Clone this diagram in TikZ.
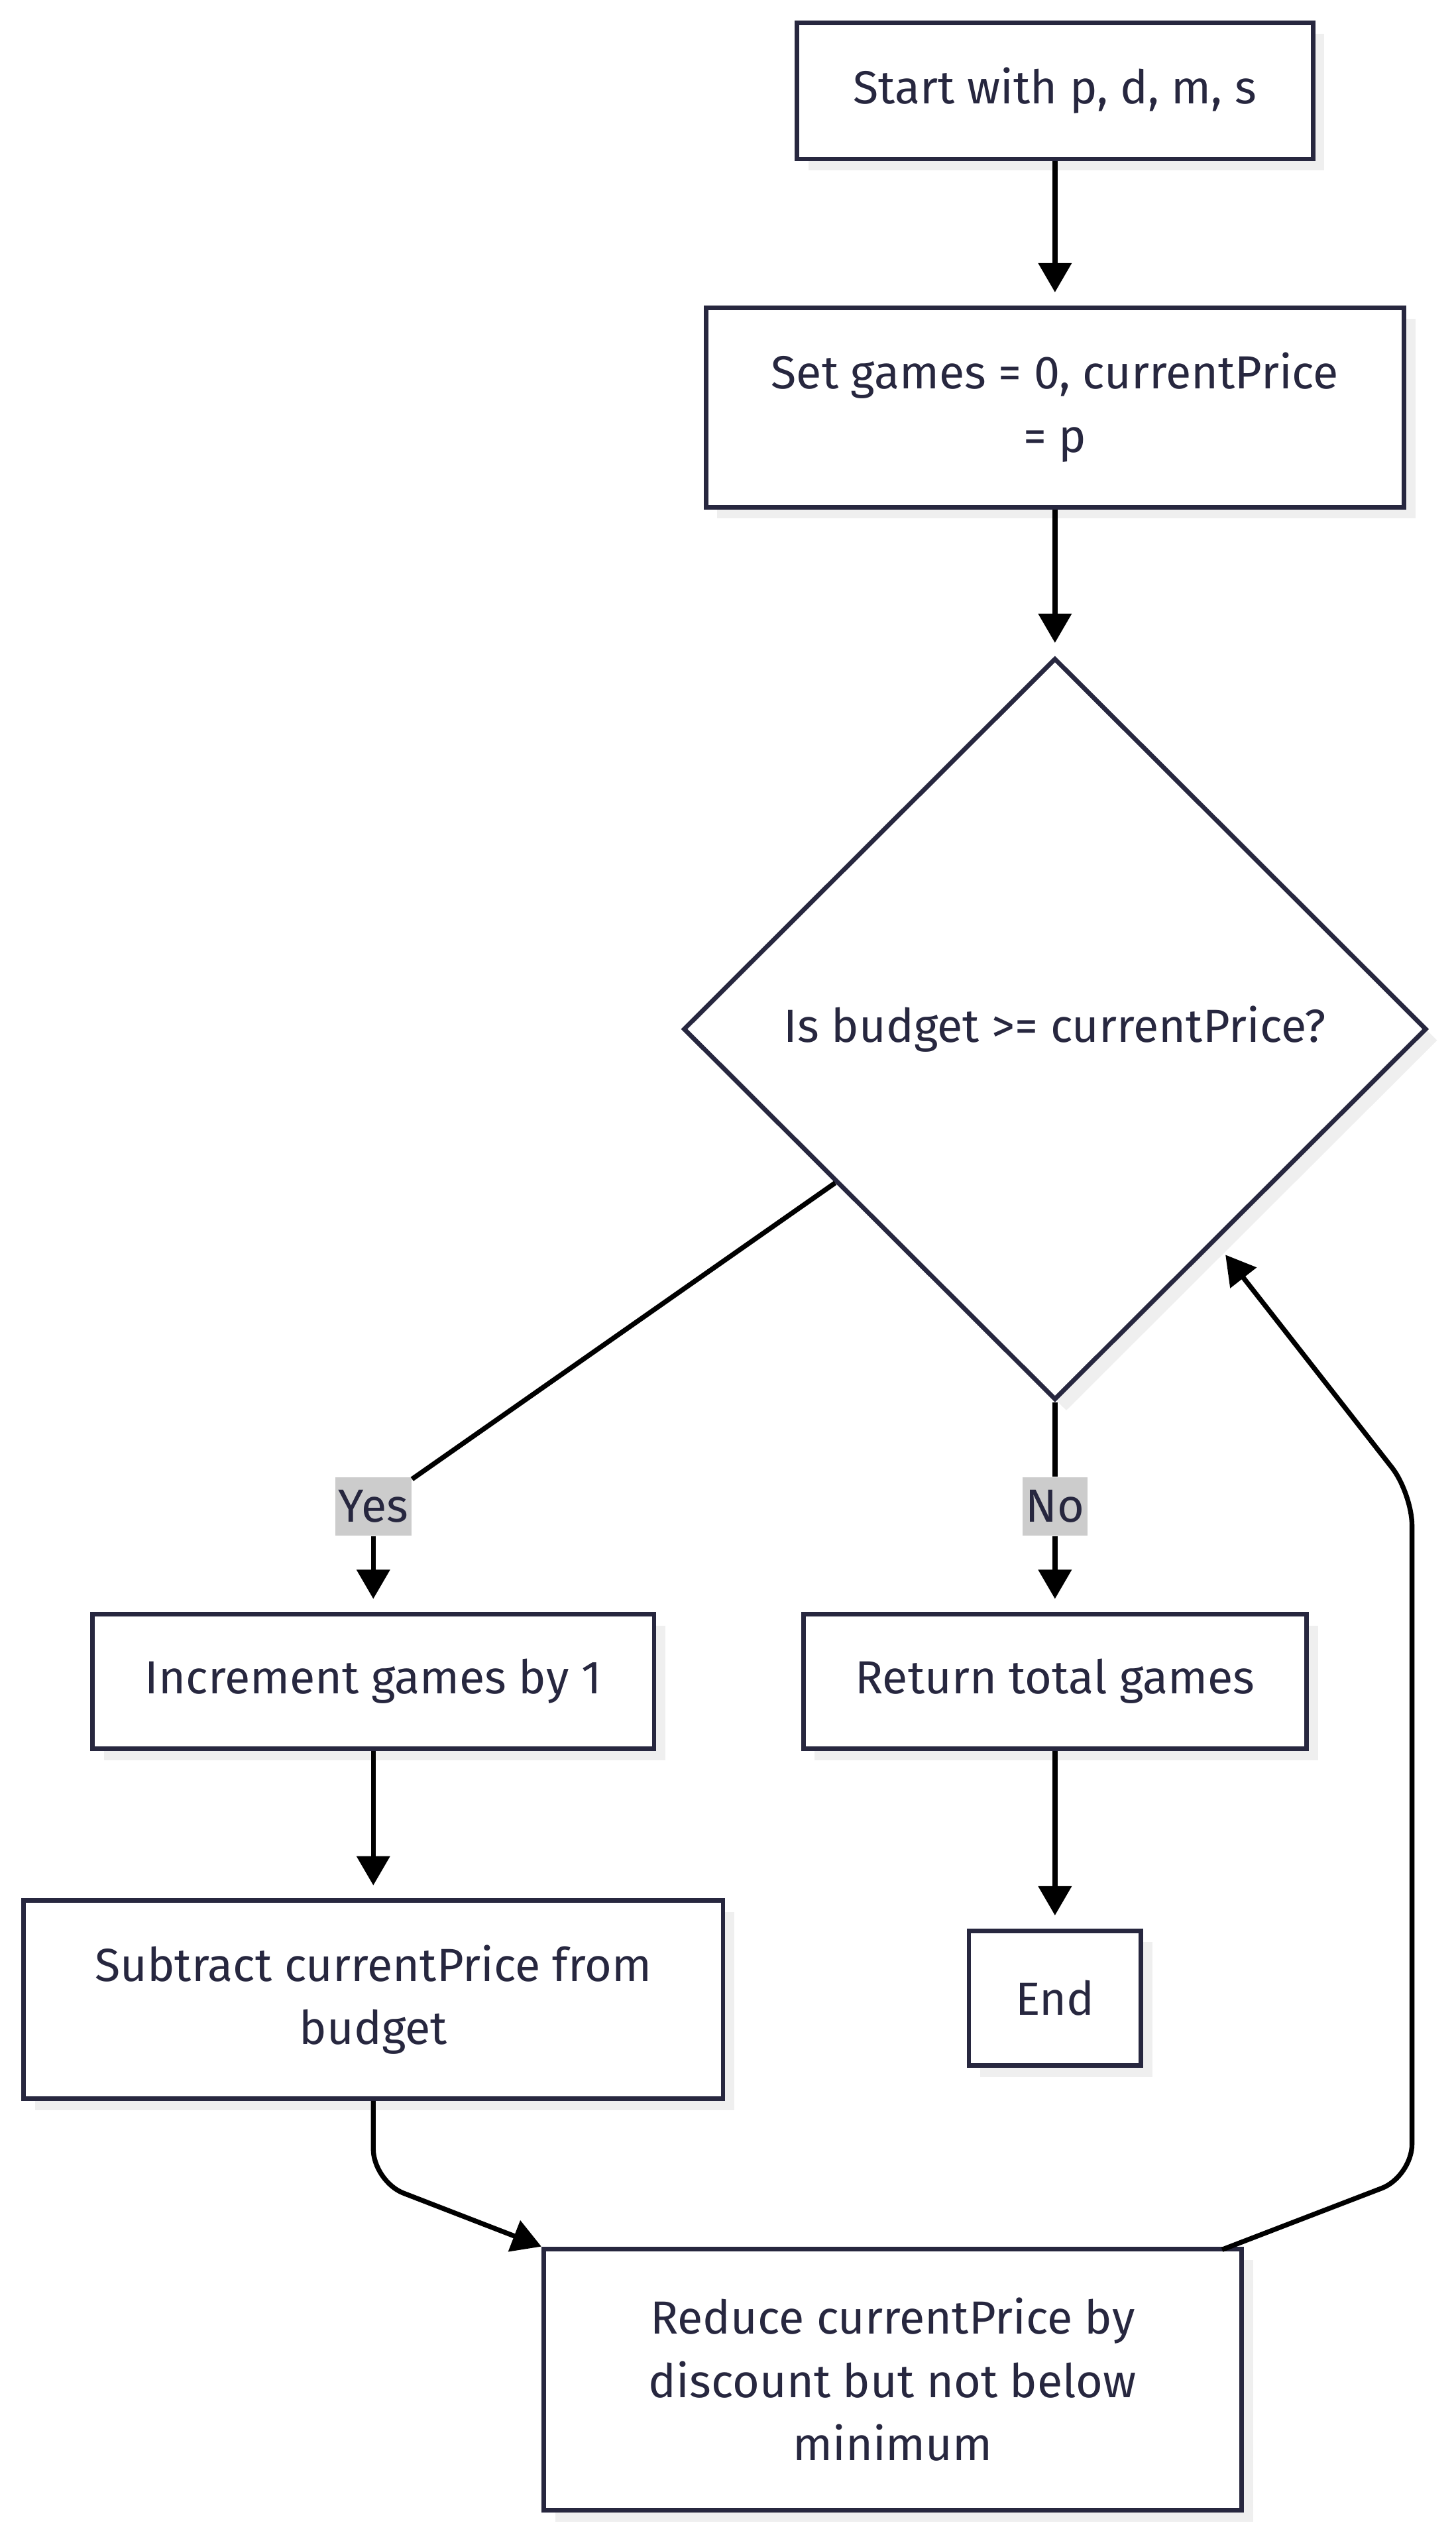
\documentclass[tikz,border=0pt]{standalone}
\usepackage{fontspec}
\setmainfont{Fira Sans}
\usepackage{xcolor}
\usepackage{tikz}
\usetikzlibrary{arrows.meta}
\usetikzlibrary{shapes.geometric}
\usetikzlibrary{positioning, shadows, calc}
\definecolor{ink}{HTML}{27273F}
\definecolor{shade}{HTML}{EFEFEF}
\definecolor{lblgray}{HTML}{CCCCCC}

\begin{document}
\begin{tikzpicture}[x=0.5pt, y=-0.5pt, font=\fontsize{14.3}{19.5}\selectfont]
\useasboundingbox (0,0) rectangle (897,1568);
\begin{scope}[every node/.style={rectangle,draw=ink,line width=1.4pt,text=ink,fill=white,
              align=center,inner sep=0pt,
              drop shadow={shadow xshift=3.5pt,shadow yshift=-3.5pt,fill=shade,opacity=1}}]
    \node[minimum width=159pt, minimum height=42pt] (S) at (650,56) {Start with p, d, m, s};
    \node[minimum width=215pt, minimum height=61.5pt] (set) at (650,251) {Set games = 0, currentPrice\\= p};
    \node[diamond, minimum width=229pt, minimum height=228.5pt] (dec) at (650,634) {Is budget >= currentPrice?};
    \node[minimum width=173pt, minimum height=41.5pt] (inc) at (230,1036) {Increment games by 1};
    \node[minimum width=155pt, minimum height=41.5pt] (ret) at (650,1036) {Return total games};
    \node[minimum width=215.5pt, minimum height=61pt] (sub) at (230,1232) {Subtract currentPrice from\\budget};
    \node[minimum width=53pt, minimum height=41.5pt] (fin) at (650,1231) {End};
    \node[minimum width=215pt, minimum height=80.5pt] (red) at (550,1466) {Reduce currentPrice by\\discount but not below\\minimum};
\end{scope}

\begin{scope}[every node/.style={fill=lblgray,text=ink,inner xsep=1pt,minimum height=18pt}]
    \node (yes) at (230,928) {Yes};
    \node (no) at (650,928) {No};
\end{scope}

\coordinate (subbend) at (230,1344);
\coordinate (loopstart) at (753,1386);
\coordinate (loopa) at (870,1341);
\coordinate (loopb) at (870,920);

\begin{scope}[>={Triangle[length=9pt,width=10pt]},
              every edge/.style={draw=black,line width=1.5pt,shorten >=4pt}]
    \path [->] (S) edge (set);
    \path [->] (set) edge (dec);
    \path (dec) edge[shorten >=0pt] (yes);
    \path (dec) edge[shorten >=0pt] (no);
    \path [->] (yes) edge (inc);
    \path [->] (no) edge (ret);
    \path [->] (inc) edge (sub);
    \path [->] (ret) edge (fin);
    \draw [->, line width=1.5pt, rounded corners=10pt] (sub) -- (subbend) -- (red.north west);
    \draw [->, line width=1.5pt, rounded corners=10pt, shorten >=5pt] (loopstart) -- (loopa) -- (loopb) -- (dec.-53);
\end{scope}
\end{tikzpicture}
\end{document}
